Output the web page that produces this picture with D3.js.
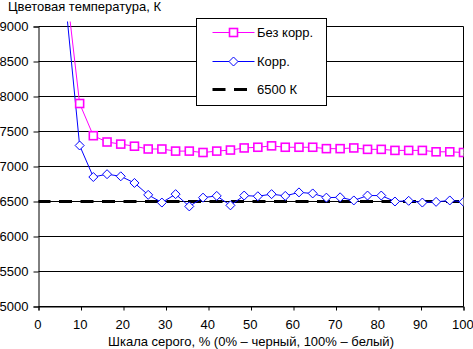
<!DOCTYPE html>
<html><head><meta charset="utf-8">
<script src="https://cdn.jsdelivr.net/npm/d3@7"></script>
<style>body{margin:0;background:#fff}svg{display:block}text{font-family:"Liberation Sans",Arial,sans-serif;font-size:13px;fill:#000}</style>
</head><body>
<svg id="c" width="473" height="349"></svg>
<script>
const grayLevels = [6.45, 9.68, 12.9, 16.13, 19.35, 22.58, 25.81, 29.03, 32.26, 35.48, 38.71, 41.94, 45.16, 48.39, 51.61, 54.84, 58.06, 61.29, 64.52, 67.74, 70.97, 74.19, 77.42, 80.65, 83.87, 87.1, 90.32, 93.55, 96.77, 100];
const noCorr = [9600, 7900, 7440, 7350, 7320, 7290, 7250, 7250, 7220, 7220, 7200, 7220, 7235, 7265, 7275, 7295, 7275, 7275, 7275, 7255, 7255, 7265, 7245, 7245, 7230, 7230, 7230, 7210, 7210, 7200];
const corr = [9300, 7300, 6850, 6890, 6860, 6765, 6595, 6485, 6605, 6430, 6555, 6580, 6445, 6585, 6575, 6605, 6580, 6630, 6615, 6555, 6560, 6515, 6585, 6585, 6500, 6510, 6485, 6495, 6515, 6495];
const reference = 6500;
const yTicks = [5000, 5500, 6000, 6500, 7000, 7500, 8000, 8500, 9000];
const xTicks = [0, 10, 20, 30, 40, 50, 60, 70, 80, 90, 100];
const seriesNames = ["Без корр.", "Корр.", "6500 К"];
const yTitle = "Цветовая температура, К";
const xTitle = "Шкала серого, % (0% – черный, 100% – белый)";

const svg = d3.select("#c");
const x = d3.scaleLinear().domain([0, 100]).range([38.5, 463.5]);
const y = d3.scaleLinear().domain([5000, 9000]).range([306.5, 26.5]);

// gridlines
svg.append("g").selectAll("line").data(yTicks).join("line")
  .attr("x1", x(0)).attr("x2", x(100)).attr("y1", d => y(d)).attr("y2", d => y(d))
  .attr("stroke", "#000").attr("stroke-width", 1);
// right border
svg.append("line").attr("x1", x(100)).attr("x2", x(100)).attr("y1", y(9000)).attr("y2", y(5000)).attr("stroke", "#000");

// axes
const yAxis = svg.append("g").attr("transform", `translate(${x(0)},0)`)
  .call(d3.axisLeft(y).tickValues(yTicks).tickSize(5).tickPadding(5).tickFormat(d3.format("d")));
const xAxis = svg.append("g").attr("transform", `translate(0,${y(5000)})`)
  .call(d3.axisBottom(x).tickValues(xTicks).tickSize(4).tickPadding(9).tickFormat(d3.format("d")));
[yAxis, xAxis].forEach(g => {
  g.select(".domain").attr("stroke", "#000");
  g.selectAll(".tick line").attr("stroke", "#000");
  g.selectAll("text").attr("font-family", "Liberation Sans, Arial, sans-serif").attr("font-size", 12).attr("fill", "#000");
});
xAxis.selectAll("text").attr("dx", -1.2);

svg.append("text").attr("x", 8).attr("y", 10.5).text(yTitle);
svg.append("text").attr("x", 251).attr("y", 346).attr("text-anchor", "middle").text(xTitle);

// clip
svg.append("defs").append("clipPath").attr("id", "clip").append("rect")
  .attr("x", x(0)).attr("y", 21.5).attr("width", x(100) - x(0)).attr("height", y(5000) - 21.5);
const plot = svg.append("g").attr("clip-path", "url(#clip)");

// reference line
plot.append("line").attr("x1", x(0) - 1).attr("x2", x(100)).attr("y1", y(reference)).attr("y2", y(reference))
  .attr("stroke", "#000").attr("stroke-width", 3).attr("stroke-dasharray", "13,8.5");

const line = d3.line().x(d => x(d[0])).y(d => y(d[1]));
const pink = "#ff00ff", blue = "#0000ff";
const d1 = grayLevels.map((g, i) => [g, noCorr[i]]);
const d2 = grayLevels.map((g, i) => [g, corr[i]]);

plot.append("path").attr("d", line(d1)).attr("fill", "none").attr("stroke", pink).attr("stroke-width", 1);
plot.append("path").attr("d", line(d2)).attr("fill", "none").attr("stroke", blue).attr("stroke-width", 1);

const sq = 8;
plot.append("g").selectAll("rect").data(d1).join("rect")
  .attr("x", d => x(d[0]) - sq / 2).attr("y", d => y(d[1]) - sq / 2)
  .attr("width", sq).attr("height", sq).attr("fill", "#fff").attr("stroke", pink).attr("stroke-width", 1.6);
const diamond = "M0,-4.5L4.5,0L0,4.5L-4.5,0Z";
plot.append("g").selectAll("path").data(d2).join("path")
  .attr("transform", d => `translate(${x(d[0])},${y(d[1])})`)
  .attr("d", diamond).attr("fill", "#fff").attr("stroke", blue).attr("stroke-width", 1);

// legend
const lg = svg.append("g");
lg.append("rect").attr("x", 196.5).attr("y", 18.5).attr("width", 130).attr("height", 87)
  .attr("fill", "#fff").attr("stroke", "#000").attr("stroke-width", 1);
const ly = [32.5, 61.5, 89.5];
const lx1 = 212.5, lx2 = 254.5, lxm = (lx1 + lx2) / 2;
lg.append("line").attr("x1", lx1).attr("x2", lx2).attr("y1", ly[0]).attr("y2", ly[0]).attr("stroke", pink);
lg.append("rect").attr("x", lxm - sq / 2).attr("y", ly[0] - sq / 2).attr("width", sq).attr("height", sq)
  .attr("fill", "#fff").attr("stroke", pink).attr("stroke-width", 1.6);
lg.append("line").attr("x1", lx1).attr("x2", lx2).attr("y1", ly[1]).attr("y2", ly[1]).attr("stroke", blue);
lg.append("path").attr("transform", `translate(${lxm},${ly[1]})`).attr("d", diamond)
  .attr("fill", "#fff").attr("stroke", blue);
lg.append("line").attr("x1", lx1).attr("x2", lx2).attr("y1", ly[2]).attr("y2", ly[2])
  .attr("stroke", "#000").attr("stroke-width", 3).attr("stroke-dasharray", "13,8.5");
lg.selectAll("text.l").data(seriesNames).join("text").attr("class", "l")
  .attr("x", 257).attr("y", (d, i) => ly[i]).attr("dy", "0.35em").text(d => d);
</script>
</body></html>
